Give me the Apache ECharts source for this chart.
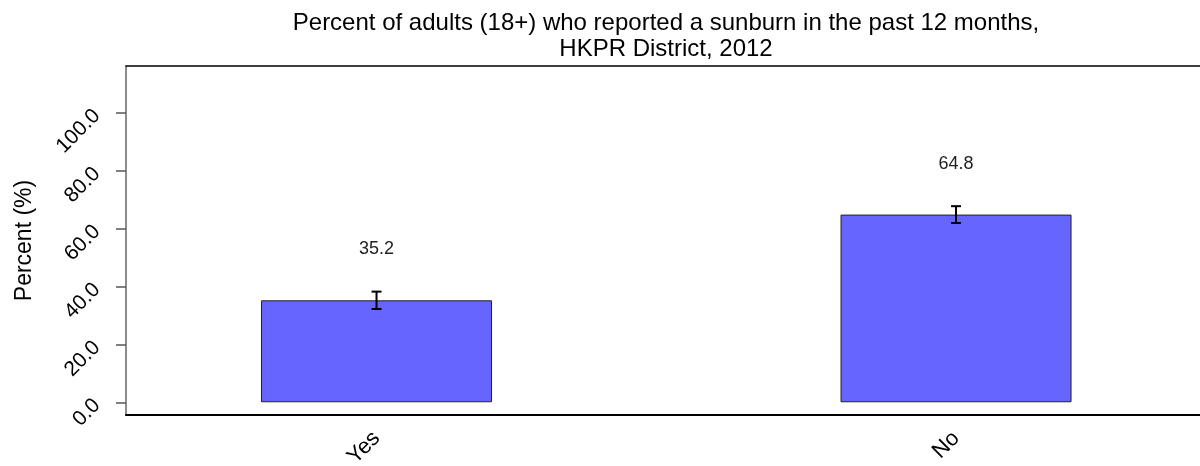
<!DOCTYPE html>
<html>
<head>
<meta charset="utf-8">
<script src="https://cdn.jsdelivr.net/npm/echarts@6/dist/echarts.min.js"></script>
<style>
html,body{margin:0;padding:0;background:#fff;}
#chart{width:1200px;height:466px;}
</style>
</head>
<body>
<div id="chart"></div>
<script>
//数据
var titleText = 'Percent of adults (18+) who reported a sunburn in the past 12 months,\nHKPR District, 2012';
var categories = ['Yes', 'No'];
var catPos = [1, 2];            // x position of each category
var values = [35.2, 64.8];      // percent
var ciLow = [32.2, 61.9];       // lower error bar
var ciHigh = [38.2, 67.7];      // upper error bar
var yTicks = [0, 20, 40, 60, 80, 100];

var barData = [];
var errData = [];
for (var i = 0; i < values.length; i++) {
    barData.push([catPos[i], values[i]]);
    errData.push([catPos[i], ciLow[i], ciHigh[i]]);
}

var font = '"Liberation Sans", Arial, sans-serif';
var myChart = echarts.init(document.getElementById('chart'));
var option = {
    backgroundColor: '#fff',
    animation: false,
    title: {
        text: titleText,
        left: 666,
        top: 10,
        padding: 0,
        textAlign: 'center',
        textStyle: {
            fontFamily: font,
            fontSize: 24,
            fontWeight: 'normal',
            color: '#000',
            lineHeight: 26
        }
    },
    grid: {
        left: 126,
        right: 0,
        top: 66,
        bottom: 51,
        outerBoundsMode: 'none'
    },
    xAxis: [
        {
            type: 'value',
            position: 'bottom',
            min: 0.5677,
            max: 2.421,
            splitLine: {show: false},
            axisLine: {onZero: false, lineStyle: {color: '#000', width: 2}},
            axisTick: {show: false},
            axisLabel: {
                customValues: catPos,
                rotate: 45,
                margin: 20,
                fontFamily: font,
                fontSize: 22,
                color: '#000',
                formatter: function (v) {
                    var k = catPos.indexOf(v);
                    return k >= 0 ? categories[k] : '';
                }
            }
        },
        {
            type: 'value',
            position: 'top',
            min: 0.5677,
            max: 2.421,
            splitLine: {show: false},
            axisLine: {onZero: false, lineStyle: {color: '#000', width: 1.5}},
            axisTick: {show: false},
            axisLabel: {show: false}
        }
    ],
    yAxis: {
        type: 'value',
        min: -4.4,
        max: 116.1,
        name: 'Percent (%)',
        nameLocation: 'middle',
        nameGap: 90,
        nameRotate: 90,
        nameTextStyle: {fontFamily: font, fontSize: 23, color: '#000'},
        splitLine: {show: false},
        axisLine: {show: true, onZero: false, lineStyle: {color: '#666', width: 1.5}},
        axisTick: {
            show: true,
            customValues: yTicks,
            length: 10,
            lineStyle: {color: '#555', width: 1.5}
        },
        axisLabel: {
            customValues: yTicks,
            rotate: 45,
            margin: 29,
            fontFamily: font,
            fontSize: 21,
            color: '#000',
            formatter: function (v) { return v.toFixed(1); }
        }
    },
    series: [
        {
            name: 'Percent',
            type: 'bar',
            data: barData,
            barWidth: 231,
            itemStyle: {color: '#6666FF', borderColor: '#222', borderWidth: 1},
            label: {
                show: true,
                position: 'top',
                distance: 42,
                fontFamily: font,
                fontSize: 18,
                color: '#222',
                formatter: function (p) { return p.value[1].toFixed(1); }
            }
        },
        {
            name: 'CI',
            type: 'custom',
            z: 5,
            data: errData,
            renderItem: function (params, api) {
                var x = api.value(0);
                var lo = api.coord([x, api.value(1)]);
                var hi = api.coord([x, api.value(2)]);
                var w = 5;
                var style = {stroke: '#000', lineWidth: 2};
                return {
                    type: 'group',
                    children: [
                        {type: 'line', shape: {x1: lo[0], y1: lo[1], x2: hi[0], y2: hi[1]}, style: style},
                        {type: 'line', shape: {x1: lo[0] - w, y1: lo[1], x2: lo[0] + w, y2: lo[1]}, style: style},
                        {type: 'line', shape: {x1: hi[0] - w, y1: hi[1], x2: hi[0] + w, y2: hi[1]}, style: style}
                    ]
                };
            }
        }
    ]
};
myChart.setOption(option);
</script>
</body>
</html>
